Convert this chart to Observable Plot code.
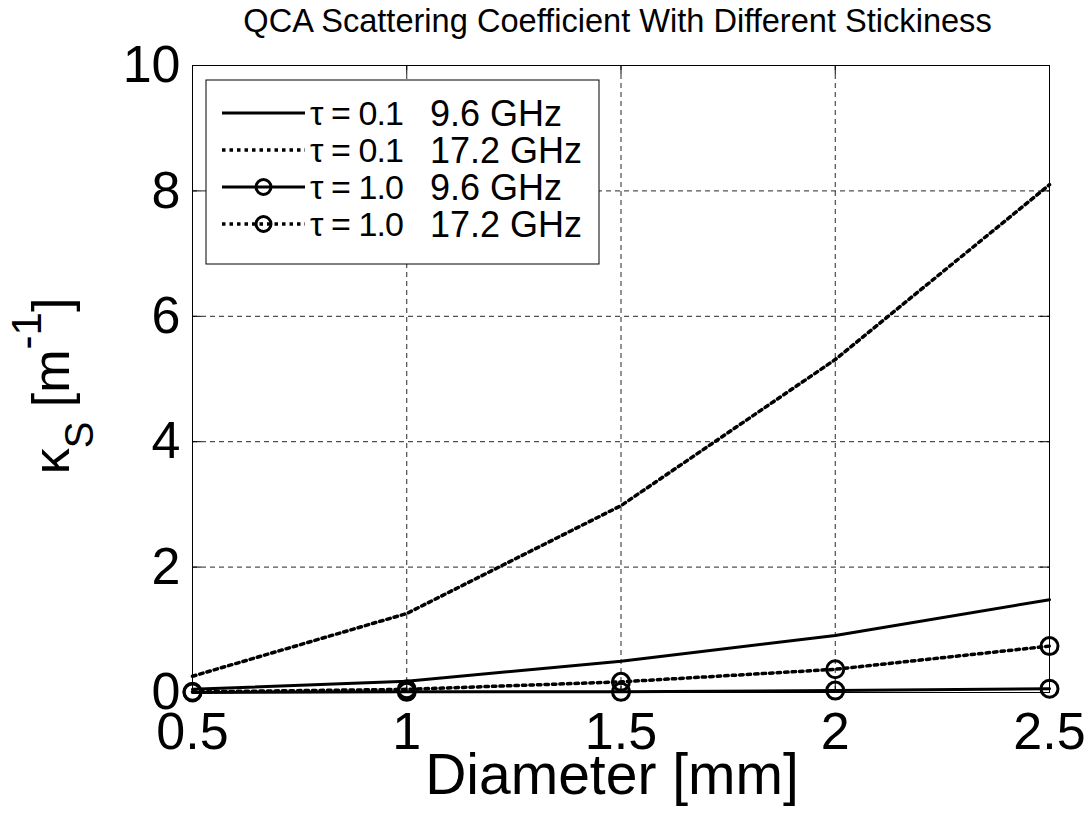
<!DOCTYPE html>
<html>
<head>
<meta charset="utf-8">
<script src="https://cdn.jsdelivr.net/npm/d3@7"></script>
<script src="https://cdn.jsdelivr.net/npm/@observablehq/plot@0.6"></script>
<style>
  html, body { margin: 0; padding: 0; background: #fff; }
  body { width: 1089px; height: 815px; overflow: hidden; font-family: "Liberation Sans", Arial, sans-serif; }
  #title {
    height: 42px; line-height: 42px; font-size: 32.6px; color: #000;
    text-align: center; padding-left: 186px; padding-right: 40px; white-space: nowrap;
  }
  #chart svg { display: block; overflow: visible; }
</style>
</head>
<body>
<div id="title">QCA Scattering Coefficient With Different Stickiness</div>
<div id="chart"></div>
<script>
// Particle diameters (mm)
const diameters = [0.5, 1, 1.5, 2, 2.5];

// Scattering coefficient κs (1/m) for each stickiness / frequency pair
const ksTau01f96  = [0.05, 0.18, 0.50, 0.91, 1.48];
const ksTau01f172 = [0.26, 1.26, 2.98, 5.31, 8.10];
const ksTau10f96  = [0.00, 0.01, 0.01, 0.03, 0.06];
const ksTau10f172 = [0.01, 0.05, 0.17, 0.37, 0.74];

// Legend entries
const seriesTau  = ["τ = 0.1", "τ = 0.1", "τ = 1.0", "τ = 1.0"];
const seriesFreq = ["9.6 GHz", "17.2 GHz", "9.6 GHz", "17.2 GHz"];

// Axis ticks and labels
const xTicks = [0.5, 1, 1.5, 2, 2.5];
const xTickLabels = ["0.5", "1", "1.5", "2", "2.5"];
const yTicks = [0, 2, 4, 6, 8, 10];
const yTickLabels = ["0", "2", "4", "6", "8", "10"];
const xLabel = "Diameter [mm]";
const yLabelPlain = "κS [m-1]";

const toRows = (ys) => diameters.map((d, i) => ({d, k: ys[i]}));
const rowsA = toRows(ksTau01f96);
const rowsB = toRows(ksTau01f172);
const rowsC = toRows(ksTau10f96);
const rowsD = toRows(ksTau10f172);

const W = 1089, H = 773;
const mL = 192, mR = 40, mT = 23, mB = 123;
const plotW = W - mL - mR, plotH = H - mT - mB;
const tickLen = 9;
const dotted = "3.5,4";
const lineStyles = [
  {dash: null, width: 3, marker: false},
  {dash: dotted, width: 3.5, marker: false},
  {dash: null, width: 3, marker: true},
  {dash: dotted, width: 3.5, marker: true}
];

const lineMark = (rows, s) =>
  Plot.line(rows, {x: "d", y: "k", stroke: "#000", strokeWidth: s.width, strokeDasharray: s.dash ?? undefined});
const dotMark = (rows) =>
  Plot.dot(rows, {x: "d", y: "k", r: 8.5, stroke: "#000", strokeWidth: 3, fill: "none"});

const chart = Plot.plot({
  width: W,
  height: H,
  marginLeft: mL,
  marginRight: mR,
  marginTop: mT,
  marginBottom: mB,
  style: {background: "#fff", fontFamily: "'Liberation Sans', Arial, sans-serif", color: "#000", overflow: "visible"},
  x: {domain: [0.5, 2.5], axis: null},
  y: {domain: [0, 10], axis: null},
  marks: [
    // dashed grid
    Plot.ruleX(xTicks, {x: d => d, stroke: "#000", strokeOpacity: 0.85, strokeWidth: 1, strokeDasharray: "5,4"}),
    Plot.ruleY(yTicks, {y: d => d, stroke: "#000", strokeOpacity: 0.85, strokeWidth: 1, strokeDasharray: "5,4"}),
    // inward tick marks on all four sides
    Plot.ruleX(xTicks, {x: d => d, insetTop: plotH - tickLen, stroke: "#000"}),
    Plot.ruleX(xTicks, {x: d => d, insetBottom: plotH - tickLen, stroke: "#000"}),
    Plot.ruleY(yTicks, {y: d => d, insetRight: plotW - tickLen, stroke: "#000"}),
    Plot.ruleY(yTicks, {y: d => d, insetLeft: plotW - tickLen, stroke: "#000"}),
    Plot.frame({stroke: "#000", strokeWidth: 1}),
    // series
    lineMark(rowsA, lineStyles[0]),
    lineMark(rowsB, lineStyles[1]),
    lineMark(rowsC, lineStyles[2]),
    dotMark(rowsC),
    lineMark(rowsD, lineStyles[3]),
    dotMark(rowsD),
    // tick labels
    Plot.text(xTicks, {x: d => d, text: (d, i) => xTickLabels[i], frameAnchor: "bottom", lineAnchor: "top", dy: 20, fontSize: 52, fill: "#000"}),
    Plot.text(yTicks, {y: d => d, text: (d, i) => yTickLabels[i], frameAnchor: "left", textAnchor: "end", dx: -12, fontSize: 52, fill: "#000"}),
    // axis titles
    Plot.text([xLabel], {text: d => d, frameAnchor: "bottom", lineAnchor: "bottom", dx: -9, dy: 101, fontSize: 57, fill: "#000"}),
    Plot.text([yLabelPlain], {text: d => d, frameAnchor: "left", lineAnchor: "bottom", rotate: -90, dx: -124, fontSize: 52, fill: "#000"})
  ]
});

document.getElementById("chart").appendChild(chart);
const svg = d3.select(chart);

// Y title with subscript S and superscript -1, centred along the axis
svg.selectAll("text").filter(function () { return this.textContent === yLabelPlain; }).each(function () {
  const t = d3.select(this);
  t.text(null).attr("text-anchor", "start");
  t.append("tspan").text("κ");
  t.append("tspan").attr("font-size", 40).attr("dy", 24).text("S");
  t.append("tspan").attr("dy", -24).text(" [m");
  t.append("tspan").attr("font-size", 42).attr("dy", -28).text("-1");
  t.append("tspan").attr("dy", 28).text("]");
  const len = this.getComputedTextLength();
  t.attr("x", -len / 2 - 7);
});

// Legend box in the upper-left corner of the plot area
const lg = svg.append("g")
  .attr("transform", `translate(${mL + 14},${mT + 15})`)
  .attr("text-anchor", "start");
const lgW = 393, lgH = 184, rowH = 37, row0 = 33;
lg.append("rect").attr("width", lgW).attr("height", lgH).attr("fill", "#fff").attr("stroke", "#000").attr("stroke-width", 1);
lineStyles.forEach((s, i) => {
  const y = row0 + i * rowH;
  lg.append("line").attr("x1", 16).attr("x2", 99).attr("y1", y).attr("y2", y)
    .attr("stroke", "#000").attr("stroke-width", s.width).attr("stroke-dasharray", s.dash);
  if (s.marker) {
    lg.append("circle").attr("cx", 57.5).attr("cy", y).attr("r", 7.5)
      .attr("fill", "none").attr("stroke", "#000").attr("stroke-width", 3);
  }
  lg.append("text").attr("x", 104).attr("y", y).attr("dy", "0.35em")
    .attr("font-size", 34).attr("textLength", 94).attr("lengthAdjust", "spacing")
    .attr("fill", "#000").text(seriesTau[i]);
  lg.append("text").attr("x", 224).attr("y", y).attr("dy", "0.35em")
    .attr("font-size", 36).attr("fill", "#000").text(seriesFreq[i]);
});
</script>
</body>
</html>
